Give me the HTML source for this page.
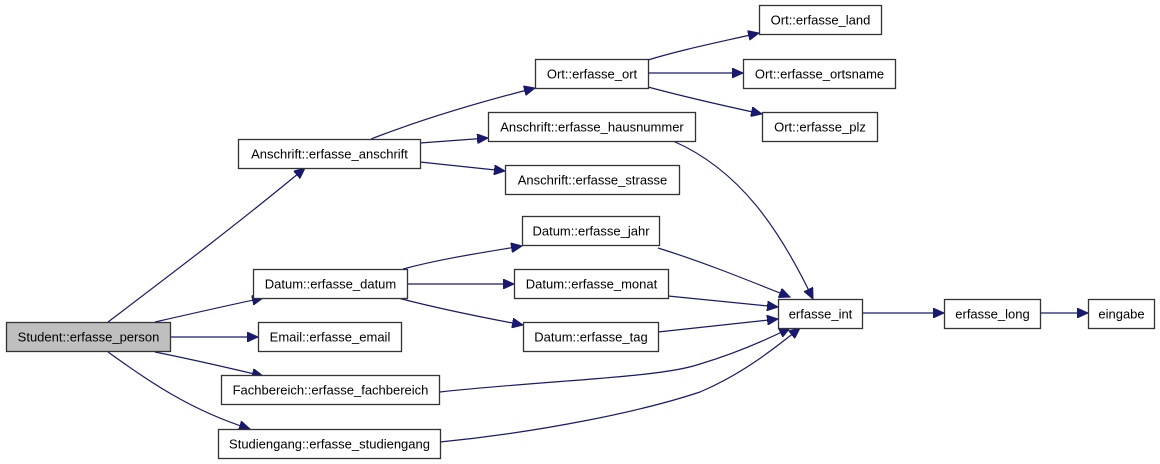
<!DOCTYPE html>
<html><head><meta charset="utf-8"><style>
html,body{margin:0;padding:0;background:#fff;}
svg{display:block;}
text{font-family:"Liberation Sans",sans-serif;font-size:13px;fill:#000;}
rect{fill:#fff;stroke:#333;stroke-width:1.3;}
path{fill:none;stroke:#191970;stroke-width:1.2;}
</style></head><body>
<svg width="1160" height="464" viewBox="0 0 1160 464" xmlns="http://www.w3.org/2000/svg">
<defs>
<marker id="a" markerUnits="userSpaceOnUse" markerWidth="12" markerHeight="10" refX="11" refY="5" orient="auto">
<path d="M0,0 L11,5 L0,10 Z" style="fill:#191970;stroke:#191970;stroke-width:1"/>
</marker>
</defs>
<!-- edges -->
<path marker-end="url(#a)" d="M108,322 C170,275 240,222 305,168"/>
<path marker-end="url(#a)" d="M155,322 C190,314 225,306 263,298"/>
<path marker-end="url(#a)" d="M171,337 L258,337"/>
<path marker-end="url(#a)" d="M155,352 C190,359 225,367 263,376"/>
<path marker-end="url(#a)" d="M108,352 C150,382 190,410 250,429"/>
<path marker-end="url(#a)" d="M371,139 C420,120 480,102 535,88"/>
<path marker-end="url(#a)" d="M420,143 L488,138"/>
<path marker-end="url(#a)" d="M420,162 L505,171"/>
<path marker-end="url(#a)" d="M648,60 C680,50 720,42 759,33"/>
<path marker-end="url(#a)" d="M648,73 L743,73"/>
<path marker-end="url(#a)" d="M648,87 C685,97 725,106 762,114"/>
<path marker-end="url(#a)" d="M403,269 C440,259 480,253 522,246"/>
<path marker-end="url(#a)" d="M407,284 L514,284"/>
<path marker-end="url(#a)" d="M398,298 C440,309 480,317 523,325"/>
<path marker-end="url(#a)" d="M673,141 C740,170 780,230 813,299"/>
<path marker-end="url(#a)" d="M658,248 C700,261 740,277 790,297"/>
<path marker-end="url(#a)" d="M668,296 L778,307"/>
<path marker-end="url(#a)" d="M658,332 L778,319"/>
<path marker-end="url(#a)" d="M440,392 C550,380 660,378 700,364 C730,355 760,343 790,328"/>
<path marker-end="url(#a)" d="M440,442 C540,432 640,412 700,392 C740,375 770,352 800,328"/>
<path marker-end="url(#a)" d="M862,313 L944,313"/>
<path marker-end="url(#a)" d="M1040,313 L1088,313"/>
<!-- nodes -->
<rect x="6.5" y="322.5" width="164" height="29" style="fill:#bfbfbf"/>
<text x="88.5" y="341.5" text-anchor="middle">Student::erfasse_person</text>
<rect x="238.5" y="139.5" width="182" height="29"/>
<text x="329.5" y="158.5" text-anchor="middle">Anschrift::erfasse_anschrift</text>
<rect x="253.5" y="269.5" width="154" height="29"/>
<text x="330.5" y="288.5" text-anchor="middle">Datum::erfasse_datum</text>
<rect x="258.5" y="322.5" width="143" height="29"/>
<text x="330" y="341.5" text-anchor="middle">Email::erfasse_email</text>
<rect x="221.5" y="375.5" width="218" height="29"/>
<text x="330.5" y="394.5" text-anchor="middle">Fachbereich::erfasse_fachbereich</text>
<rect x="218.5" y="429.5" width="222" height="29"/>
<text x="329.5" y="448.5" text-anchor="middle">Studiengang::erfasse_studiengang</text>
<rect x="535.5" y="59.5" width="113" height="29"/>
<text x="592" y="78.5" text-anchor="middle">Ort::erfasse_ort</text>
<rect x="488.5" y="112.5" width="207" height="29"/>
<text x="592" y="131.5" text-anchor="middle">Anschrift::erfasse_hausnummer</text>
<rect x="505.5" y="165.5" width="174" height="29"/>
<text x="592.5" y="184.5" text-anchor="middle">Anschrift::erfasse_strasse</text>
<rect x="759.5" y="5.5" width="122" height="29"/>
<text x="820.5" y="24.5" text-anchor="middle">Ort::erfasse_land</text>
<rect x="743.5" y="59.5" width="152" height="29"/>
<text x="819.5" y="78.5" text-anchor="middle">Ort::erfasse_ortsname</text>
<rect x="762.5" y="112.5" width="115" height="29"/>
<text x="820" y="131.5" text-anchor="middle">Ort::erfasse_plz</text>
<rect x="522.5" y="216.5" width="137" height="29"/>
<text x="591" y="235.5" text-anchor="middle">Datum::erfasse_jahr</text>
<rect x="514.5" y="269.5" width="154" height="29"/>
<text x="591.5" y="288.5" text-anchor="middle">Datum::erfasse_monat</text>
<rect x="523.5" y="322.5" width="135" height="29"/>
<text x="591" y="341.5" text-anchor="middle">Datum::erfasse_tag</text>
<rect x="778.5" y="299.5" width="84" height="29"/>
<text x="820.5" y="318.5" text-anchor="middle">erfasse_int</text>
<rect x="944.5" y="299.5" width="96" height="29"/>
<text x="992.5" y="318.5" text-anchor="middle">erfasse_long</text>
<rect x="1088.5" y="299.5" width="66" height="29"/>
<text x="1121.5" y="318.5" text-anchor="middle">eingabe</text>
</svg>
</body></html>
